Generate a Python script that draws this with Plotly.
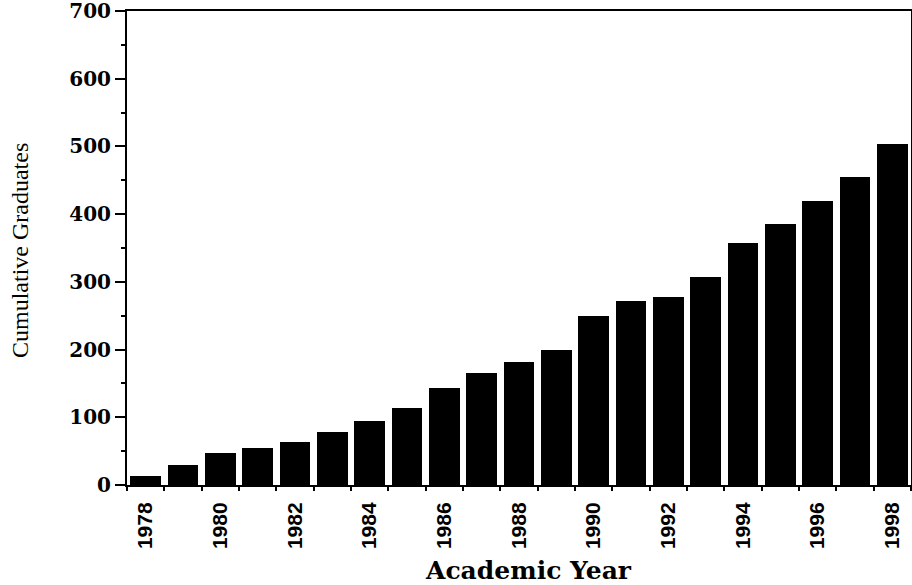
import plotly.graph_objects as go

years = list(range(1978, 1999))
graduates = [14, 30, 47, 55, 63, 79, 95, 114, 143, 165, 181, 200, 250, 272, 277, 307, 357, 386, 420, 455, 504]
x_tick_years = list(range(1978, 1999, 2))
y_tick_vals = [0, 100, 200, 300, 400, 500, 600, 700]

fig = go.Figure()
fig.add_trace(go.Bar(
    x=years, y=graduates, width=0.83,
    marker=dict(color="black", line=dict(width=0)),
))

L, R, T, B = 127, 1, 11, 100
W, H = 912, 585
pw, ph = W - L - R, H - T - B

fig.update_layout(
    template="none",
    width=W, height=H,
    margin=dict(l=L, r=R, t=T, b=B, autoexpand=False),
    paper_bgcolor="white", plot_bgcolor="white",
    showlegend=False,
    bargap=0,
)

fig.update_xaxes(
    automargin=False,
    range=[1977.5, 1998.5],
    tickmode="array", tickvals=x_tick_years, ticktext=[str(v) for v in x_tick_years],
    tickangle=-90,
    ticks="outside", ticklen=7, tickcolor="rgba(0,0,0,0)",
    tickfont=dict(family="Liberation Sans", size=21, color="black", weight="bold"),
    minor=dict(tick0=1977.5, dtick=1, ticks="outside", ticklen=4, tickwidth=2, tickcolor="black"),
    showline=True, linecolor="black", linewidth=2, mirror=True,
    showgrid=False, zeroline=False,
)
fig.update_yaxes(
    automargin=False,
    range=[0, 700],
    tickmode="array", tickvals=y_tick_vals,
    ticks="outside", ticklen=10, tickwidth=2, tickcolor="black",
    ticklabeloverflow="allow",
    tickfont=dict(family="DejaVu Serif", size=20, color="black", weight="bold"),
    minor=dict(dtick=50, ticks="outside", ticklen=4, tickwidth=2, tickcolor="black"),
    showline=True, linecolor="black", linewidth=2, mirror=True,
    showgrid=False, zeroline=False,
)

fig.add_annotation(
    text="Academic Year", xref="paper", yref="paper",
    x=(528 - L) / pw, y=(485 - 570) / ph, xanchor="center", yanchor="middle",
    showarrow=False,
    font=dict(family="DejaVu Serif", size=25, color="black", weight="bold"),
)
fig.add_annotation(
    text="Cumulative Graduates", xref="paper", yref="paper",
    x=(20 - L) / pw, y=(485 - 251) / ph, xanchor="center", yanchor="middle",
    textangle=-90, showarrow=False,
    font=dict(family="Liberation Serif", size=24, color="black"),
)

fig.write_html(
    "out.html",
    config={"displayModeBar": False},
    post_script="document.body.style.margin='0';document.body.style.overflow='hidden';",
)
